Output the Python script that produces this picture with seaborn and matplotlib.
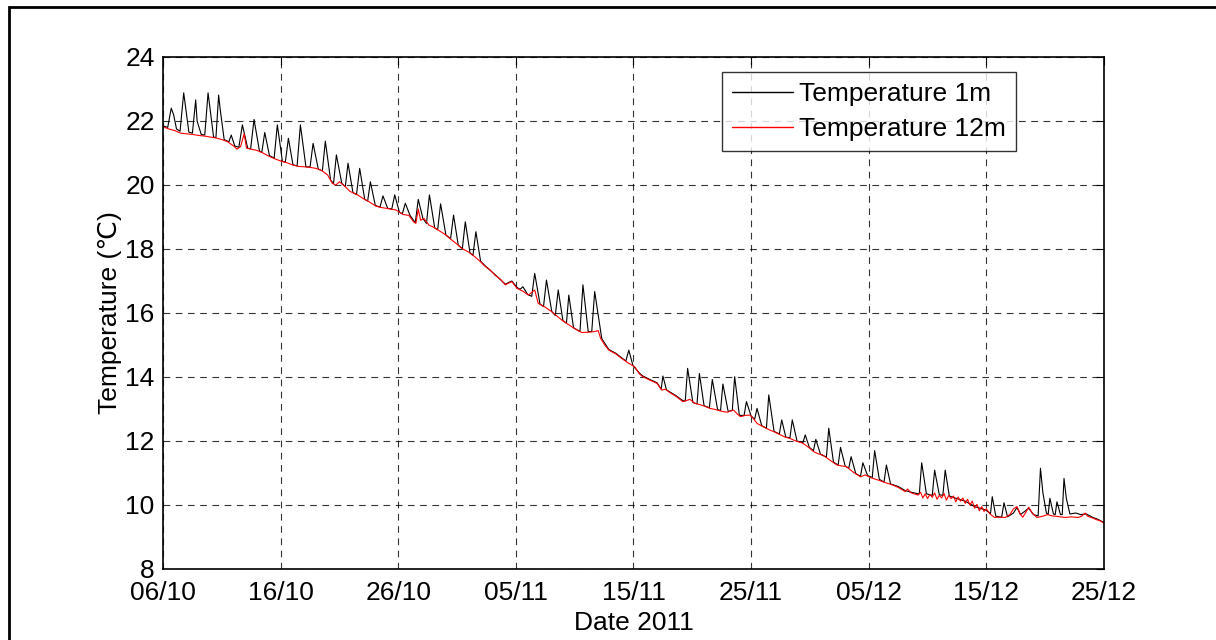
import numpy as np
import pandas as pd
import seaborn as sns
import matplotlib.pyplot as plt
import matplotlib.dates as mdates
from matplotlib.patches import Rectangle

# days after 06/10/2011
t_12m = [0.0, 0.5, 1.0, 1.5, 2.0, 2.5, 3.0, 3.5, 4.0, 4.5, 5.0, 5.5, 6.0, 6.3, 6.6, 6.9, 7.1, 7.5,
         8.0, 8.5, 9.0, 9.5, 10.0, 10.5, 11.0, 11.5, 12.0, 12.5, 13.0, 13.5, 14.0, 14.4, 14.7, 15.0,
         15.4, 15.9, 16.5, 17.0, 17.5, 18.1, 18.5, 19.0, 19.5, 19.8, 20.4, 20.9, 21.3, 21.5, 21.7,
         21.9, 22.2, 22.6, 23.0, 23.4, 24.0, 24.55, 25.0, 25.4, 26.0, 26.5, 27.0, 27.4, 27.8, 28.2,
         28.7, 29.1, 29.65, 30.1, 30.6, 31.06, 31.6, 31.9, 32.5, 33.05, 33.5, 33.9, 34.3, 34.75,
         35.2, 35.6, 36.2, 36.7, 37.0, 37.2, 37.6, 37.9, 38.5, 39.0, 39.5, 40.1, 40.5, 40.8, 41.4,
         42.0, 42.4, 42.7, 43.1, 43.6, 44.2, 44.8, 45.2, 45.7, 46.1, 46.5, 47.0, 47.6, 48.0, 48.5,
         48.8, 49.1, 49.5, 49.9, 50.2, 50.5, 51.0, 51.6, 52.0, 52.5, 52.9, 53.3, 53.8, 54.4, 54.9,
         55.3, 55.7, 56.1, 56.7, 57.3, 57.7, 58.1, 58.7, 59.3, 59.7, 60.2, 60.8, 61.4, 62.0, 62.5,
         63.1, 63.3, 63.6, 64.2, 64.4, 64.6, 64.8, 65.0, 65.2, 65.4, 65.6, 65.8, 66.0, 66.2, 66.4,
         66.6, 66.8, 67.0, 67.2, 67.4, 67.6, 67.8, 68.0, 68.2, 68.4, 68.6, 68.8, 69.0, 69.2, 69.4,
         69.6, 69.8, 70.0, 70.3, 70.7, 71.1, 71.6, 72.0, 72.3, 72.6, 72.9, 73.1, 73.4, 73.6, 73.9,
         74.3, 74.8, 75.2, 75.6, 76.1, 76.7, 77.2, 77.8, 78.1, 78.4, 78.6, 79.0, 79.3, 79.7, 80.0]
temp_12m = [21.82, 21.75, 21.70, 21.62, 21.60, 21.58, 21.55, 21.53, 21.50, 21.47, 21.42, 21.35,
            21.22, 21.12, 21.20, 21.60, 21.15, 21.12, 21.08, 21.00, 20.90, 20.82, 20.75, 20.70,
            20.63, 20.58, 20.57, 20.55, 20.52, 20.45, 20.31, 20.05, 20.00, 20.10, 19.98, 19.80,
            19.70, 19.58, 19.48, 19.34, 19.30, 19.27, 19.24, 19.22, 19.08, 19.05, 18.85, 18.80,
            19.25, 18.90, 18.95, 18.75, 18.68, 18.59, 18.45, 18.28, 18.15, 18.02, 17.90, 17.76,
            17.60, 17.45, 17.35, 17.19, 17.05, 16.88, 16.98, 16.77, 16.68, 16.56, 16.72, 16.30,
            16.18, 16.04, 15.90, 15.78, 15.68, 15.57, 15.47, 15.39, 15.40, 15.42, 15.45, 15.21,
            14.98, 14.84, 14.72, 14.58, 14.45, 14.32, 14.10, 14.01, 13.90, 13.80, 13.59, 13.62,
            13.51, 13.40, 13.23, 13.30, 13.18, 13.13, 13.08, 13.02, 12.98, 12.92, 12.90, 12.97,
            12.85, 12.76, 12.80, 12.81, 12.70, 12.55, 12.45, 12.34, 12.28, 12.19, 12.12, 12.08,
            12.00, 11.93, 11.80, 11.67, 11.60, 11.56, 11.40, 11.25, 11.22, 11.20, 11.02, 10.88,
            10.94, 10.85, 10.78, 10.70, 10.63, 10.55, 10.42, 10.50, 10.38, 10.31, 10.40, 10.22,
            10.35, 10.20, 10.33, 10.24, 10.38, 10.18, 10.30, 10.22, 10.36, 10.15, 10.30, 10.20,
            10.28, 10.10, 10.25, 10.12, 10.22, 10.05, 10.18, 10.00, 10.12, 9.90, 10.02, 9.82,
            9.95, 9.80, 9.88, 9.72, 9.61, 9.62, 9.61, 9.70, 9.88, 9.95, 9.70, 9.62, 9.80, 9.93,
            9.75, 9.61, 9.65, 9.70, 9.66, 9.64, 9.61, 9.63, 9.61, 9.65, 9.75, 9.65, 9.60, 9.55,
            9.50, 9.43]

t_1m = [0.0, 0.4, 0.7, 0.9, 1.15, 1.45, 1.76, 2.2, 2.5, 2.78, 2.9, 3.25, 3.55, 3.83, 4.3, 4.5,
        4.73, 4.85, 5.2, 5.6, 5.8, 6.1, 6.45, 6.75, 7.2, 7.45, 7.74, 8.2, 8.4, 8.65, 9.05, 9.45,
        9.72, 10.15, 10.4, 10.66, 11.05, 11.4, 11.68, 12.15, 12.5, 12.76, 13.2, 13.55, 13.8,
        14.25, 14.5, 14.74, 15.2, 15.5, 15.73, 16.15, 16.45, 16.72, 17.15, 17.4, 17.63, 18.05,
        18.45, 18.7, 19.1, 19.45, 19.7, 20.1, 20.35, 20.6, 21.0, 21.45, 21.7, 22.1, 22.4, 22.65,
        23.1, 23.35, 23.6, 24.05, 24.45, 24.7, 25.1, 25.45, 25.7, 26.1, 26.35, 26.6, 27.0, 27.4,
        28.2, 29.1, 29.65, 30.1, 30.35, 30.6, 31.0, 31.35, 31.6, 32.05, 32.35, 32.6, 33.05,
        33.35, 33.6, 34.0, 34.3, 34.5, 34.9, 35.45, 35.7, 36.15, 36.45, 36.7, 37.3, 37.9, 38.5,
        39.0, 39.35, 39.6, 39.95, 40.5, 40.8, 41.4, 42.0, 42.35, 42.5, 42.8, 43.1, 43.6, 44.2,
        44.4, 44.6, 45.05, 45.4, 45.6, 46.0, 46.45, 46.7, 47.15, 47.4, 47.6, 48.05, 48.4, 48.6,
        49.0, 49.4, 49.6, 50.0, 50.3, 50.5, 50.9, 51.3, 51.5, 51.95, 52.4, 52.6, 52.95, 53.3,
        53.5, 53.9, 54.4, 54.6, 54.95, 55.3, 55.5, 55.9, 56.4, 56.6, 57.0, 57.4, 57.6, 58.0,
        58.3, 58.5, 58.9, 59.3, 59.5, 59.9, 60.3, 60.5, 60.9, 61.3, 61.5, 61.85, 62.5, 63.1,
        63.6, 64.2, 64.3, 64.5, 64.9, 65.4, 65.6, 66.0, 66.3, 66.5, 66.85, 67.5, 68.2, 69.0,
        69.9, 70.3, 70.35, 70.5, 70.8, 71.3, 71.5, 71.8, 72.3, 72.6, 72.9, 73.6, 74.0, 74.4,
        74.6, 74.8, 75.1, 75.25, 75.4, 75.7, 75.85, 76.0, 76.3, 76.45, 76.6, 76.8, 77.1, 77.6,
        78.0, 78.5, 79.0, 79.5, 80.0]
temp_1m = [21.85, 21.80, 22.40, 22.20, 21.75, 21.68, 22.88, 21.65, 21.62, 22.66, 22.00, 21.58,
           21.56, 22.88, 21.50, 21.48, 22.81, 22.40, 21.42, 21.35, 21.56, 21.22, 21.18, 21.88,
           21.15, 21.13, 22.05, 21.06, 21.02, 21.64, 20.92, 20.84, 21.88, 20.74, 20.71, 21.46,
           20.63, 20.60, 21.88, 20.57, 20.56, 21.30, 20.50, 20.44, 21.37, 20.15, 20.05, 20.94,
           20.05, 19.95, 20.68, 19.76, 19.70, 20.52, 19.55, 19.50, 20.10, 19.36, 19.31, 19.66,
           19.27, 19.25, 19.69, 19.15, 19.10, 19.43, 19.05, 18.82, 19.55, 18.95, 18.80, 19.69,
           18.66, 18.60, 19.41, 18.44, 18.32, 19.06, 18.12, 18.01, 18.85, 17.88, 17.80, 18.54,
           17.62, 17.47, 17.21, 16.90, 17.00, 16.80, 16.74, 16.82, 16.58, 16.52, 17.24, 16.28,
           16.20, 17.03, 16.05, 15.92, 16.72, 15.76, 15.68, 16.56, 15.54, 15.42, 16.88, 15.42,
           15.42, 16.67, 15.20, 14.86, 14.74, 14.60, 14.50, 14.84, 14.36, 14.12, 14.03, 13.92,
           13.82, 13.62, 14.03, 13.60, 13.53, 13.42, 13.26, 13.25, 14.27, 13.20, 13.16, 14.11,
           13.10, 13.04, 13.92, 12.98, 12.95, 13.78, 12.92, 12.96, 14.01, 12.80, 12.80, 13.23,
           12.78, 12.68, 13.02, 12.48, 12.40, 13.44, 12.30, 12.22, 12.66, 12.12, 12.10, 12.66,
           12.00, 11.95, 12.19, 11.80, 11.70, 12.05, 11.58, 11.50, 12.40, 11.34, 11.25, 11.80,
           11.21, 11.15, 11.51, 10.98, 10.90, 11.32, 10.92, 10.86, 11.70, 10.80, 10.72, 11.25,
           10.66, 10.58, 10.45, 10.40, 10.35, 10.35, 11.32, 10.35, 10.30, 11.09, 10.32, 10.30,
           11.09, 10.28, 10.20, 10.12, 9.95, 9.85, 9.75, 9.72, 10.26, 9.65, 9.62, 10.07, 9.63,
           9.75, 9.92, 9.70, 9.90, 9.70, 9.66, 11.15, 10.40, 9.75, 9.70, 10.21, 9.72, 9.70, 10.10,
           9.70, 9.70, 10.83, 10.20, 9.72, 9.75, 9.70, 9.72, 9.62, 9.55, 9.45]

start = pd.Timestamp("2011-10-06")
tick_days = [0, 10, 20, 30, 40, 50, 60, 70, 80]
y_ticks = [8, 10, 12, 14, 16, 18, 20, 22, 24]

df = pd.concat([
    pd.DataFrame({"date": start + pd.to_timedelta(t_1m, unit="D"), "temp": temp_1m,
                  "series": "Temperature 1m"}),
    pd.DataFrame({"date": start + pd.to_timedelta(t_12m, unit="D"), "temp": temp_12m,
                  "series": "Temperature 12m"}),
], ignore_index=True)

sns.set_style("white")
plt.rcParams["font.family"] = ["Liberation Sans", "DejaVu Sans"]
plt.rcParams["text.color"] = "black"
plt.rcParams["axes.labelcolor"] = "black"

fig = plt.figure(figsize=(12.16, 6.4), dpi=100)
ax = fig.add_axes([163 / 1216, 1 - 569 / 640, 941 / 1216, 512 / 640])

sns.lineplot(data=df, x="date", y="temp", hue="series",
             palette={"Temperature 1m": "black", "Temperature 12m": "red"},
             estimator=None, sort=False, linewidth=0.8, ax=ax)

ax.set_xlim(start, start + pd.Timedelta(days=80))
ax.set_ylim(8, 24)
ax.set_xticks([start + pd.Timedelta(days=d) for d in tick_days])
ax.xaxis.set_major_formatter(mdates.DateFormatter("%d/%m"))
ax.set_yticks(y_ticks)
ax.tick_params(direction="in", length=6, width=0.8, labelsize=19, top=True, right=True,
               colors="black", pad=6)
ax.tick_params(axis="x", pad=9)
ax.grid(True, color="black", linestyle=(0, (6, 5)), linewidth=0.8, alpha=0.8)
for s in ax.spines.values():
    s.set_color("black")
    s.set_linewidth(1.2)

ax.set_xlabel("Date 2011", fontsize=19, labelpad=4)
ax.set_ylabel("Temperature (℃)", fontsize=19, labelpad=2)

leg = ax.legend(loc="upper right", bbox_to_anchor=(0.9065, 0.9707), borderaxespad=0,
                fontsize=19, frameon=True, fancybox=False, handlelength=2.3,
                borderpad=0.38, labelspacing=0.42, handletextpad=0.25)
leg.get_frame().set_edgecolor("black")
leg.get_frame().set_linewidth(1.0)
for h in leg.get_lines():
    h.set_linewidth(1.0)
for txt in leg.get_texts():
    txt.set_color("black")

# outer frame of the original figure (left and top edges only visible)
fig.patches.append(Rectangle((9 / 1216, -0.1), 1.2, 1.1 - 7 / 640, transform=fig.transFigure,
                             fill=False, edgecolor="black", linewidth=2.0))

fig.savefig("out.png", dpi=100)
